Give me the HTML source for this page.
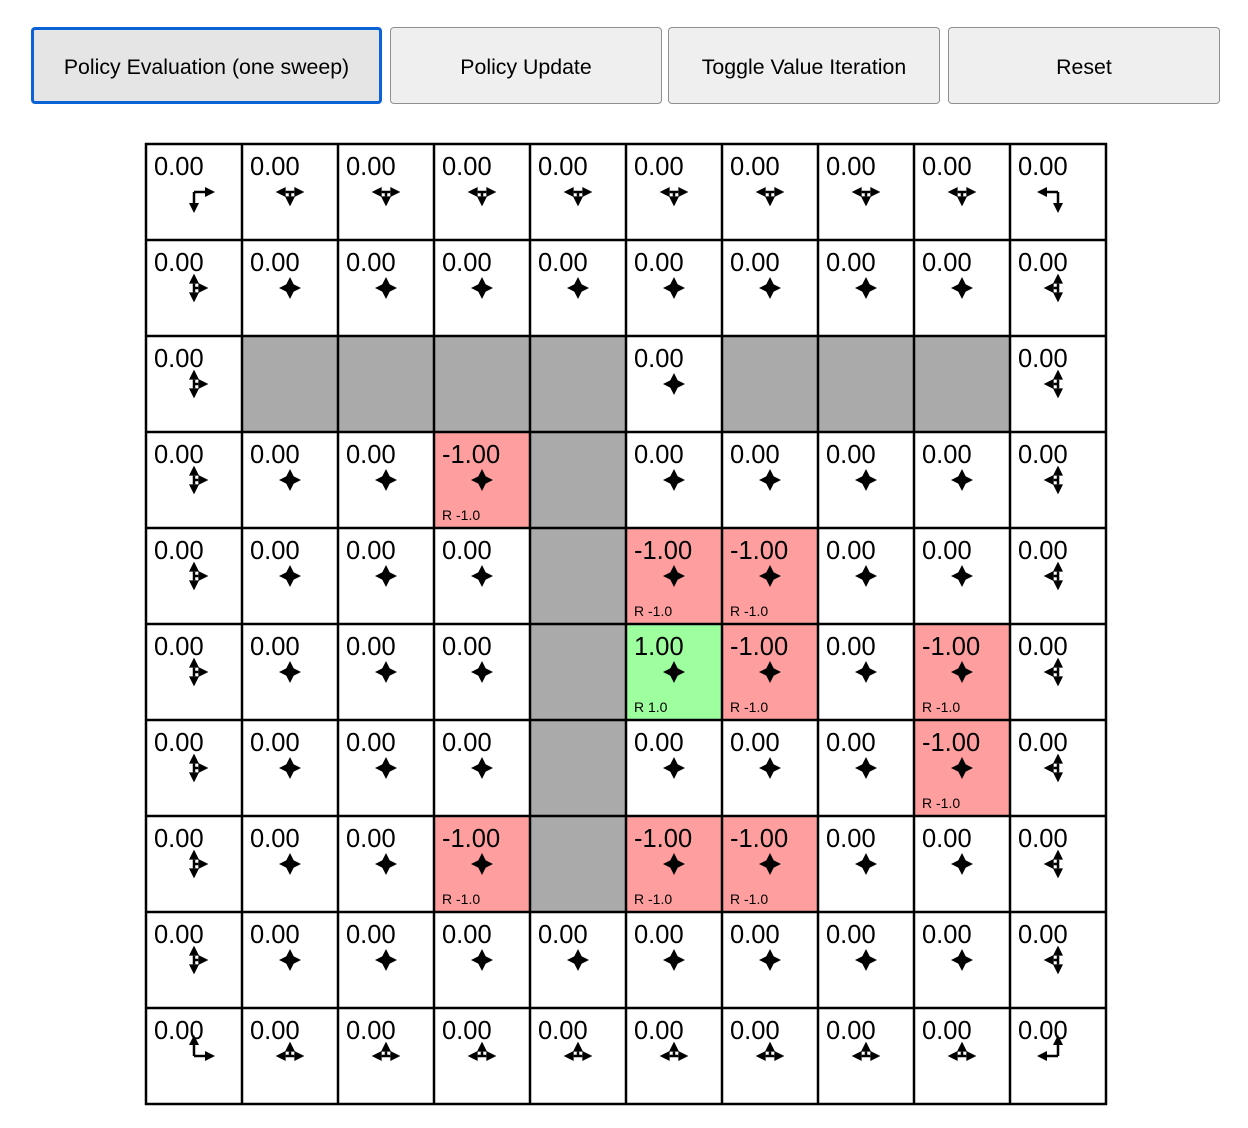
<!DOCTYPE html>
<html><head><style>
body{margin:0;background:#fff;width:1248px;height:1128px;position:relative;font-family:"Liberation Sans",Arial,sans-serif;overflow:hidden}
.btn{position:absolute;top:27px;height:77px;box-sizing:border-box;background:#efefef;border:1.5px solid #8f8f8f;border-radius:4px;font-size:21.3px;display:flex;align-items:center;justify-content:center;color:#000;padding-top:4px}
.btn.f{border:3px solid #0b62d6;background:#e5e5e5}
#g{position:absolute;left:146px;top:144px;width:960px;height:960px;display:grid;grid-template-columns:repeat(10,96px);grid-template-rows:repeat(10,96px)}
#g div{position:relative;background:#fff}
#g div.w{background:#aaa}
#g div.r{background:#ff9e9e}
#g div.gr{background:#9eff9e}
#g b{position:absolute;left:8px;top:9px;font-weight:normal;font-size:25.5px;line-height:28px}
#g i{position:absolute;left:8px;top:75px;font-style:normal;font-size:14px}
svg{position:absolute;left:0;top:0}
</style></head><body>
<div class="btn f" style="left:31px;width:351px">Policy Evaluation (one sweep)</div>
<div class="btn" style="left:390px;width:272px">Policy Update</div>
<div class="btn" style="left:668px;width:272px">Toggle Value Iteration</div>
<div class="btn" style="left:948px;width:272px">Reset</div>
<div id="g">
<div><b>0.00</b></div><div><b>0.00</b></div><div><b>0.00</b></div><div><b>0.00</b></div><div><b>0.00</b></div><div><b>0.00</b></div><div><b>0.00</b></div><div><b>0.00</b></div><div><b>0.00</b></div><div><b>0.00</b></div>
<div><b>0.00</b></div><div><b>0.00</b></div><div><b>0.00</b></div><div><b>0.00</b></div><div><b>0.00</b></div><div><b>0.00</b></div><div><b>0.00</b></div><div><b>0.00</b></div><div><b>0.00</b></div><div><b>0.00</b></div>
<div><b>0.00</b></div><div class="w"></div><div class="w"></div><div class="w"></div><div class="w"></div><div><b>0.00</b></div><div class="w"></div><div class="w"></div><div class="w"></div><div><b>0.00</b></div>
<div><b>0.00</b></div><div><b>0.00</b></div><div><b>0.00</b></div><div class="r"><b>-1.00</b><i>R -1.0</i></div><div class="w"></div><div><b>0.00</b></div><div><b>0.00</b></div><div><b>0.00</b></div><div><b>0.00</b></div><div><b>0.00</b></div>
<div><b>0.00</b></div><div><b>0.00</b></div><div><b>0.00</b></div><div><b>0.00</b></div><div class="w"></div><div class="r"><b>-1.00</b><i>R -1.0</i></div><div class="r"><b>-1.00</b><i>R -1.0</i></div><div><b>0.00</b></div><div><b>0.00</b></div><div><b>0.00</b></div>
<div><b>0.00</b></div><div><b>0.00</b></div><div><b>0.00</b></div><div><b>0.00</b></div><div class="w"></div><div class="gr"><b>1.00</b><i>R 1.0</i></div><div class="r"><b>-1.00</b><i>R -1.0</i></div><div><b>0.00</b></div><div class="r"><b>-1.00</b><i>R -1.0</i></div><div><b>0.00</b></div>
<div><b>0.00</b></div><div><b>0.00</b></div><div><b>0.00</b></div><div><b>0.00</b></div><div class="w"></div><div><b>0.00</b></div><div><b>0.00</b></div><div><b>0.00</b></div><div class="r"><b>-1.00</b><i>R -1.0</i></div><div><b>0.00</b></div>
<div><b>0.00</b></div><div><b>0.00</b></div><div><b>0.00</b></div><div class="r"><b>-1.00</b><i>R -1.0</i></div><div class="w"></div><div class="r"><b>-1.00</b><i>R -1.0</i></div><div class="r"><b>-1.00</b><i>R -1.0</i></div><div><b>0.00</b></div><div><b>0.00</b></div><div><b>0.00</b></div>
<div><b>0.00</b></div><div><b>0.00</b></div><div><b>0.00</b></div><div><b>0.00</b></div><div><b>0.00</b></div><div><b>0.00</b></div><div><b>0.00</b></div><div><b>0.00</b></div><div><b>0.00</b></div><div><b>0.00</b></div>
<div><b>0.00</b></div><div><b>0.00</b></div><div><b>0.00</b></div><div><b>0.00</b></div><div><b>0.00</b></div><div><b>0.00</b></div><div><b>0.00</b></div><div><b>0.00</b></div><div><b>0.00</b></div><div><b>0.00</b></div>
</div>
<svg id="s" width="1248" height="1128"></svg>
<script>
var walls={};
[[2,1],[2,2],[2,3],[2,4],[2,6],[2,7],[2,8],[3,4],[4,4],[5,4],[6,4],[7,4]].forEach(function(a){walls[a[0]*10+a[1]]=1;});
var h='';
for(var r=0;r<10;r++)for(var c=0;c<10;c++){
 if(walls[r*10+c])continue;
 var dirs=[];
 if(r>0)dirs.push([0,-1]);if(r<9)dirs.push([0,1]);if(c>0)dirs.push([-1,0]);if(c<9)dirs.push([1,0]);
 var p=1/dirs.length,cx=146+c*96+48,cy=144+r*96+48,T=40*p+1;
 dirs.forEach(function(d){
  var tx=cx+d[0]*T,ty=cy+d[1]*T,bx=cx+d[0]*(T-10),by=cy+d[1]*(T-10);
  h+='<line x1="'+cx+'" y1="'+cy+'" x2="'+bx+'" y2="'+by+'" stroke="#000" stroke-width="2.5"/>';
  var px=-d[1]*5,py=d[0]*5;
  h+='<polygon points="'+tx+','+ty+' '+(bx+px)+','+(by+py)+' '+(bx-px)+','+(by-py)+'" fill="#000"/>';
 });
}
for(var i=0;i<=10;i++){
 var x=146+i*96;
 h+='<line x1="'+x+'" y1="143" x2="'+x+'" y2="1105" stroke="#000" stroke-width="2.5"/>';
 h+='<line x1="145" y1="'+x+'" x2="1107" y2="'+x+'" stroke="#000" stroke-width="2.5" transform="translate(0,-2)"/>';
}
document.getElementById('s').innerHTML=h;
</script>
</body></html>
